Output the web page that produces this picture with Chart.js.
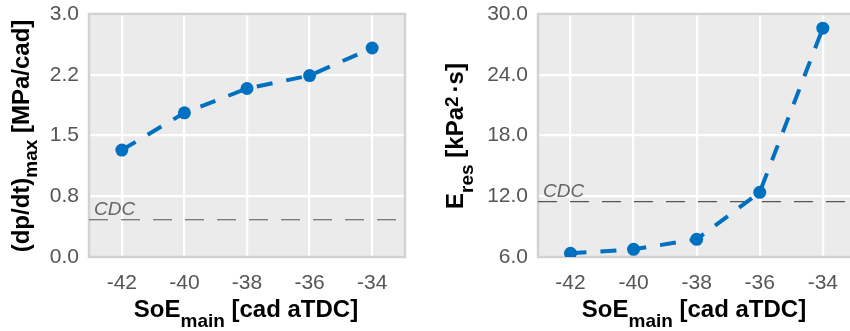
<!DOCTYPE html>
<html>
<head>
<meta charset="utf-8">
<script src="https://cdn.jsdelivr.net/npm/chart.js@4/dist/chart.umd.min.js"></script>
<style>
  html, body { margin: 0; padding: 0; background: #fff; overflow: hidden; }
  #wrap { position: relative; width: 850px; height: 331px; overflow: hidden; }
  .panel { position: absolute; top: 0; height: 331px; }
  #pLeft { left: 0; width: 425px; }
  #pRight { left: 425px; width: 435px; }
  canvas { display: block; }
</style>
</head>
<body>
<div id="wrap">
  <div class="panel" id="pLeft"><canvas id="cLeft" width="425" height="331"></canvas></div>
  <div class="panel" id="pRight"><canvas id="cRight" width="435" height="331"></canvas></div>
</div>
<script>
// Start of main injection, crank angle degrees after TDC
const soeMain = [-42, -40, -38, -36, -34];
const xTicks = [-42, -40, -38, -36, -34];

// Peak pressure rise rate, MPa/cad
const dpdtMax = [1.32, 1.78, 2.08, 2.24, 2.58];
const dpdtCDC = 0.46;
const dpdtTicks = [0, 0.75, 1.5, 2.25, 3.0];
const dpdtTickLabels = ['0.0', '0.8', '1.5', '2.2', '3.0'];

// Resonance energy, kPa^2·s
const eRes = [6.37, 6.76, 7.75, 12.39, 28.6];
const eResCDC = 11.46;
const eResTicks = [6, 12, 18, 24, 30];
const eResTickLabels = ['6.0', '12.0', '18.0', '24.0', '30.0'];

const FONT = '"Liberation Sans", Arial, Helvetica, sans-serif';
const BLUE = '#0070c0';

// Draws a run of text pieces; each piece can be shifted off the baseline and sized on its own
function drawRich(ctx, pieces, x, y, rotated, center) {
  ctx.save();
  ctx.translate(x, y);
  if (rotated) ctx.rotate(-Math.PI / 2);
  ctx.textBaseline = 'alphabetic';
  ctx.textAlign = 'left';
  ctx.fillStyle = '#000';
  let total = 0;
  for (const p of pieces) {
    ctx.font = 'bold ' + p.size + 'px ' + FONT;
    total += ctx.measureText(p.text).width + (p.gap || 0);
  }
  let cx = center ? -total / 2 : 0;
  for (const p of pieces) {
    ctx.font = 'bold ' + p.size + 'px ' + FONT;
    ctx.fillText(p.text, cx, p.dy || 0);
    cx += ctx.measureText(p.text).width + (p.gap || 0);
  }
  ctx.restore();
}

function panelPlugin(cfg) {
  return {
    id: 'panelDeco',
    beforeDraw(chart) {
      const { ctx, chartArea: a } = chart;
      ctx.save();
      ctx.fillStyle = '#ebebeb';
      ctx.fillRect(a.left, a.top, a.right - a.left, a.bottom - a.top);
      ctx.restore();
    },
    beforeDatasetsDraw(chart) {
      const { ctx, chartArea: a } = chart;
      const yS = chart.scales.y;
      // frame
      ctx.save();
      ctx.strokeStyle = '#d2d2d2';
      ctx.lineWidth = 2.5;
      ctx.strokeRect(a.left, a.top, a.right - a.left, a.bottom - a.top);
      ctx.restore();
      // CDC reference level
      const yp = yS.getPixelForValue(cfg.cdc);
      ctx.save();
      ctx.beginPath();
      ctx.rect(a.left, a.top, a.right - a.left, a.bottom - a.top);
      ctx.clip();
      ctx.strokeStyle = '#555';
      ctx.lineWidth = 1.2;
      ctx.setLineDash([19, 13]);
      ctx.beginPath();
      ctx.moveTo(a.left, yp);
      ctx.lineTo(a.right, yp);
      ctx.stroke();
      ctx.setLineDash([]);
      ctx.fillStyle = '#666';
      ctx.font = 'italic 19px ' + FONT;
      ctx.textBaseline = 'alphabetic';
      ctx.fillText('CDC', a.left + 5, yp - 5);
      ctx.restore();
    },
    afterDraw(chart) {
      const { ctx } = chart;
      drawRich(ctx, cfg.xTitle, cfg.xTitleX, 317, false, true);
      drawRich(ctx, cfg.yTitle, cfg.yTitleX, 136, true, true);
    }
  };
}

function makePanel(canvasId, values, cfg) {
  const points = soeMain.map((x, i) => ({ x: x, y: values[i] }));
  return new Chart(document.getElementById(canvasId), {
    type: 'line',
    data: {
      datasets: [{
        data: points,
        borderColor: BLUE,
        backgroundColor: BLUE,
        borderWidth: 4,
        borderDash: [16, 14],
        borderCapStyle: 'butt',
        pointRadius: 6.5,
        pointBackgroundColor: BLUE,
        pointBorderWidth: 0,
        tension: 0,
        fill: false
      }]
    },
    options: {
      responsive: false,
      animation: false,
      events: [],
      layout: { autoPadding: false, padding: { left: 0, top: 14, right: cfg.padRight, bottom: 0 } },
      plugins: { legend: { display: false }, tooltip: { enabled: false } },
      scales: {
        x: {
          type: 'linear',
          min: cfg.xMin,
          max: cfg.xMax,
          afterBuildTicks: s => { s.ticks = xTicks.map(v => ({ value: v })); },
          afterFit: s => { s.height = 74; s.paddingLeft = 0; s.paddingRight = 0; },
          ticks: {
            callback: v => String(v),
            font: { family: FONT, size: 21 },
            color: '#555',
            padding: 14,
            maxRotation: 0
          },
          grid: { color: '#ffffff', lineWidth: 2.2, drawTicks: false },
          border: { display: false }
        },
        y: {
          min: cfg.yTicks[0],
          max: cfg.yTicks[cfg.yTicks.length - 1],
          afterBuildTicks: s => { s.ticks = cfg.yTicks.map(v => ({ value: v })); },
          afterFit: s => { s.width = cfg.yWidth; s.paddingTop = 0; s.paddingBottom = 0; },
          ticks: {
            callback: (v, i) => cfg.yTickLabels[i],
            font: { family: FONT, size: 21 },
            color: '#555',
            padding: 10
          },
          grid: { color: '#ffffff', lineWidth: 2.2, drawTicks: false },
          border: { display: false }
        }
      }
    },
    plugins: [panelPlugin(cfg)]
  });
}

const xTitlePieces = [
  { text: 'SoE', size: 24 },
  { text: 'main', size: 19, dy: 10 },
  { text: ' [cad aTDC]', size: 24 }
];

makePanel('cLeft', dpdtMax, {
  xMin: -43.05, xMax: -32.95, padRight: 20, yWidth: 89,
  yTicks: dpdtTicks, yTickLabels: dpdtTickLabels, cdc: dpdtCDC,
  xTitle: xTitlePieces, xTitleX: 246,
  yTitle: [
    { text: '(dp/dt)', size: 24 },
    { text: 'max', size: 19, dy: 8 },
    { text: ' [MPa/cad]', size: 24 }
  ],
  yTitleX: 29
});

makePanel('cRight', eRes, {
  xMin: -43.03, xMax: -32.98, padRight: 5, yWidth: 113,
  yTicks: eResTicks, yTickLabels: eResTickLabels, cdc: eResCDC,
  xTitle: xTitlePieces, xTitleX: 269,
  yTitle: [
    { text: 'E', size: 24 },
    { text: 'res', size: 19, dy: 10 },
    { text: ' [kPa', size: 24 },
    { text: '2', size: 19, dy: -5, gap: 4 },
    { text: '\u00b7s]', size: 24 }
  ],
  yTitleX: 38
});
</script>
</body>
</html>
